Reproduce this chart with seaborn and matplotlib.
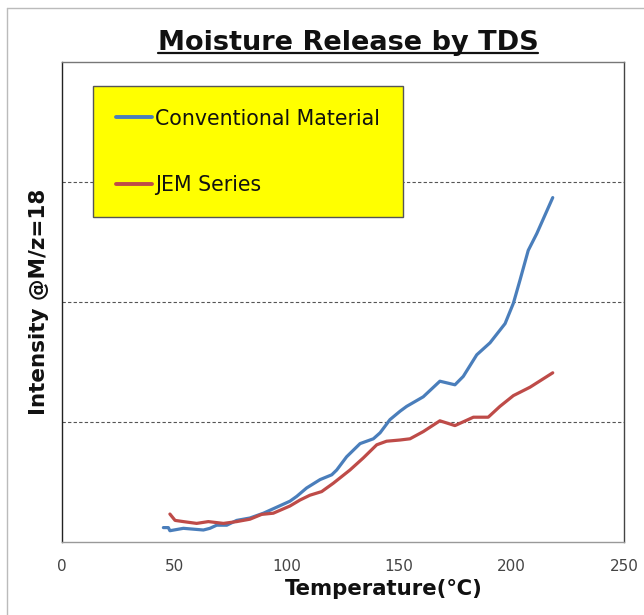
import numpy as np
import pandas as pd
import matplotlib
matplotlib.use("Agg")
import matplotlib.pyplot as plt
import seaborn as sns
from matplotlib.lines import Line2D

# ---- data ----
conv_temp = [45.1, 47.3, 48.0, 54.0, 62.9, 65.8, 68.8, 73.3, 77.7, 83.6, 89.6, 95.5,
             101.4, 104.4, 108.8, 114.8, 120.0, 122.2, 126.6, 132.6, 138.5, 141.5,
             145.9, 150.4, 153.3, 160.7, 168.1, 174.8, 178.5, 184.5, 190.4, 197.1,
             200.8, 203.7, 207.4, 211.2, 218.3]
conv_int = [0.12, 0.12, 0.094, 0.114, 0.10, 0.114, 0.14, 0.14, 0.18, 0.20, 0.24, 0.29,
            0.34, 0.38, 0.45, 0.52, 0.56, 0.60, 0.71, 0.82, 0.86, 0.91,
            1.02, 1.09, 1.13, 1.21, 1.34, 1.31, 1.38, 1.56, 1.66, 1.82,
            1.99, 2.18, 2.43, 2.57, 2.87]
jem_temp = [48.0, 50.3, 54.0, 59.9, 65.1, 71.8, 77.7, 83.6, 88.8, 94.0, 101.4, 105.9,
            110.3, 115.5, 120.7, 128.1, 134.0, 140.0, 144.4, 150.4, 154.8, 160.7,
            168.1, 174.8, 183.0, 189.6, 194.8, 200.8, 208.2, 218.3]
jem_int = [0.233, 0.18, 0.17, 0.155, 0.17, 0.155, 0.17, 0.19, 0.23, 0.24, 0.30, 0.35,
           0.39, 0.42, 0.49, 0.60, 0.70, 0.81, 0.84, 0.85, 0.86, 0.92,
           1.01, 0.97, 1.04, 1.04, 1.13, 1.22, 1.29, 1.41]
series_names = ["Conventional Material", "JEM Series"]
x_ticks = [0, 50, 100, 150, 200, 250]
grid_levels = [1, 2, 3]

df = pd.concat([
    pd.DataFrame({"Temperature": conv_temp, "Intensity": conv_int, "Series": series_names[0]}),
    pd.DataFrame({"Temperature": jem_temp, "Intensity": jem_int, "Series": series_names[1]}),
], ignore_index=True)

sns.set_style("white")
plt.rcParams['font.family'] = ['DejaVu Sans']

W, H = 644, 615
fig = plt.figure(figsize=(W/100, H/100), dpi=100)
ax = fig.add_axes([62/W, 1-542/H, (624-62)/W, (542-62)/H])

palette = {series_names[0]: "#4A7EBB", series_names[1]: "#BE4B48"}
sns.lineplot(data=df, x="Temperature", y="Intensity", hue="Series", palette=palette,
             estimator=None, sort=False, linewidth=2.3, ax=ax, legend=False)
for ln in ax.get_lines():
    ln.set_solid_joinstyle("round")
    ln.set_solid_capstyle("round")

for g in grid_levels:
    ax.axhline(g, color="#555555", linewidth=0.8, linestyle=(0, (3, 2)), zorder=0)

ax.set_xlim(0, 250)
ax.set_ylim(0, 4)
ax.set_xticks(x_ticks)
ax.set_xticklabels([str(t) for t in x_ticks], color="#444444", fontsize=11)
ax.set_yticks([])
ax.tick_params(axis="x", direction="out", length=6, width=1, color="#999999", pad=6)
ax.spines["bottom"].set_color("#999999")
ax.spines["left"].set_color("#222222")
ax.spines["right"].set_color("#444444")
ax.spines["top"].set_color("#777777")
for s in ax.spines.values():
    s.set_linewidth(1.0)

ax.set_xlabel("Temperature(℃)", fontsize=15.3, fontweight="bold", color="#111111")
ax.xaxis.set_label_coords((384-62)/562, -(579-542)/480)
ax.set_ylabel("Intensity @M/z=18", fontsize=15.5, fontweight="bold", color="#111111", labelpad=9)

# legend
handles = [Line2D([0], [0], color=palette[n], linewidth=2.8) for n in series_names]
leg = ax.legend(handles, series_names, loc="upper left", bbox_to_anchor=(31/562, 1-24/480),
                frameon=True, fontsize=14.8, handlelength=1.78, handletextpad=0.15,
                labelspacing=2.25, borderpad=1.1, borderaxespad=0, fancybox=False)
leg.get_frame().set_facecolor("#FFFF00")
leg.get_frame().set_edgecolor("#555555")
leg.get_frame().set_linewidth(1.0)
leg.get_frame().set_alpha(1)
for t in leg.get_texts():
    t.set_color("#111111")

# title with underline
title = fig.text(348/W, 1-50/H, "Moisture Release by TDS", ha="center", va="baseline",
                 fontsize=19.5, fontweight="bold", color="#111111")
fig.canvas.draw()
bb = title.get_window_extent().transformed(fig.transFigure.inverted())
fig.add_artist(Line2D([bb.x0, bb.x1], [1-53/H, 1-53/H], transform=fig.transFigure,
                      color="#111111", linewidth=1.6))

# figure border
fig.add_artist(Line2D([7/W, 7/W], [0, 1-8/H], transform=fig.transFigure, color="#BBBBBB", linewidth=1))
fig.add_artist(Line2D([7/W, 1], [1-8/H, 1-8/H], transform=fig.transFigure, color="#BBBBBB", linewidth=1))

fig.savefig("out.png", dpi=100)
